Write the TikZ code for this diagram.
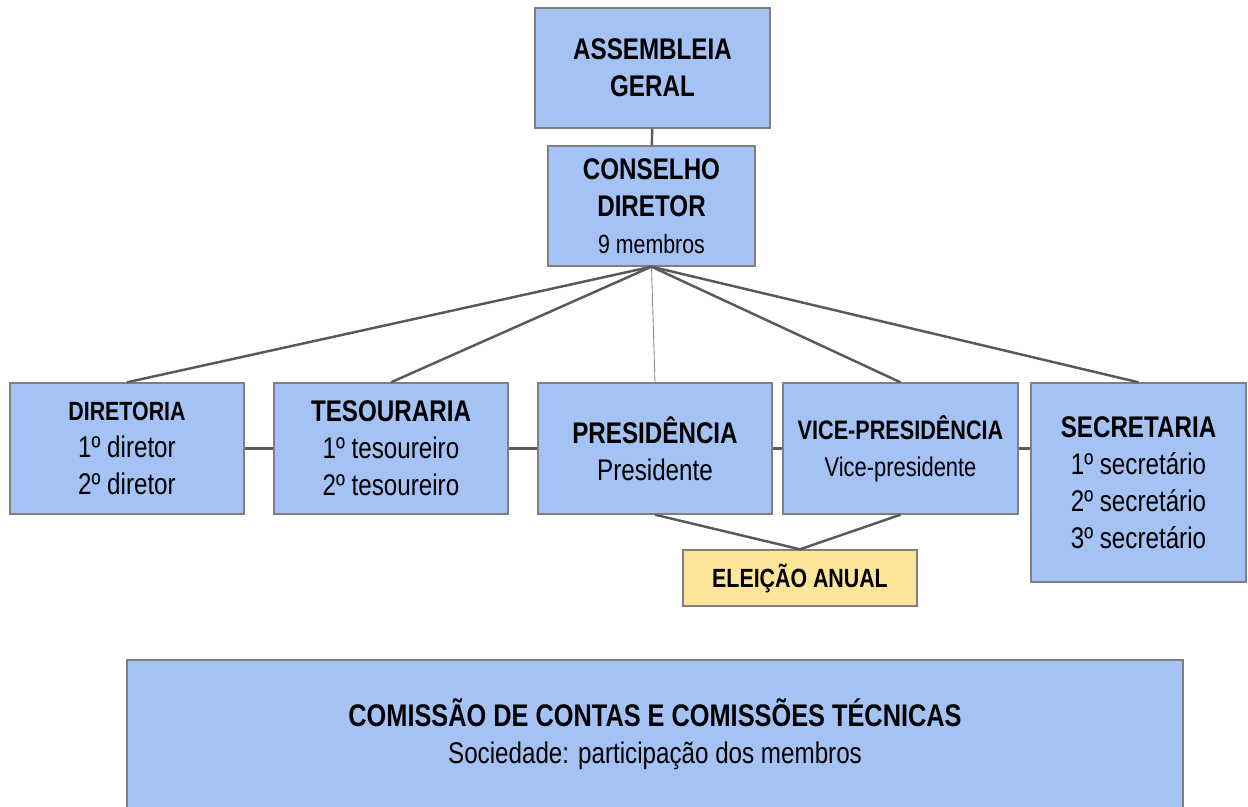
\documentclass[tikz,border=0pt]{standalone}
\usepackage{fontspec}
\setmainfont{Liberation Sans}[FakeStretch=0.81]
\usetikzlibrary{positioning}

\definecolor{boxblue}{HTML}{A4C2F4}
\definecolor{boxyellow}{HTML}{FFE599}
\definecolor{boxline}{HTML}{7F7F7F}
\definecolor{wiregray}{HTML}{595959}

\begin{document}
\begin{tikzpicture}[x=0.02cm,y=-0.02cm,
                    every node/.append style={align=center, inner sep=0pt,
                    font=\fontsize{17}{21}\selectfont},
                    unit/.style={draw=boxline, fill=boxblue, line width=.8pt,
                                 minimum width=4.68cm, minimum height=2.62cm},
                    wire/.style={draw=wiregray, line width=1.4pt}]
    \useasboundingbox (0,0) rectangle (1248,806);

    % top of the chart
    \node[unit, minimum width=4.7cm, minimum height=2.4cm] (assembleia) at (652.5,68)
        {\textbf{ASSEMBLEIA}\\\textbf{GERAL}};
    \node[unit, minimum width=4.14cm, minimum height=2.4cm] (conselho) at (651.5,206)
        {\textbf{CONSELHO}\\\textbf{DIRETOR}\\{\fontsize{15}{21}\selectfont 9 membros}};

    % the five offices
    \node[unit] (diretoria) at (127,448.5)
        {{\fontsize{15}{21}\selectfont\bfseries DIRETORIA}\\1º diretor\\2º diretor};
    \node[unit] (tesouraria) at (391,448.5)
        {\textbf{TESOURARIA}\\1º tesoureiro\\2º tesoureiro};
    \node[unit] (presidencia) at (655,448.5)
        {\textbf{PRESIDÊNCIA}\\Presidente};
    \node[unit, minimum width=4.7cm] (vice) at (900.5,448.5)
        {{\fontsize{15.2}{21}\selectfont\bfseries VICE-PRESIDÊNCIA}\\{\fontsize{15.4}{21}\selectfont Vice-presidente}};
    \node[unit, minimum width=4.3cm, minimum height=3.98cm] (secretaria) at (1138.5,482.5)
        {\textbf{SECRETARIA}\\1º secretário\\2º secretário\\3º secretário};

    \node[unit, fill=boxyellow, minimum height=1.12cm] (eleicao) at (800,578)
        {\fontsize{15}{21}\selectfont\bfseries ELEIÇÃO ANUAL};

    \node[unit, minimum width=21.12cm, minimum height=2.96cm] (comissao) at (655,734)
        {{\fontsize{17.8}{21}\selectfont\bfseries COMISSÃO DE CONTAS E COMISSÕES TÉCNICAS}\\Sociedade: participação dos membros};

    % connectors
    \draw[wire] (assembleia) -- (conselho);
    \draw[wire] (conselho.south) -- (diretoria.north);
    \draw[wire] (conselho.south) -- (tesouraria.north);
    \draw[draw=wiregray!70, line width=.5pt] (conselho.south) -- (presidencia.north);
    \draw[wire] (conselho.south) -- (vice.north);
    \draw[wire] (conselho.south) -- (secretaria.north);
    \draw[wire] (diretoria) -- (tesouraria);
    \draw[wire] (tesouraria) -- (presidencia);
    \draw[wire] (presidencia) -- (vice);
    \draw[wire] (vice.east) -- (vice.east -| secretaria.west);
    \draw[wire] (presidencia.south) -- (eleicao.north) -- (vice.south);
\end{tikzpicture}
\end{document}
